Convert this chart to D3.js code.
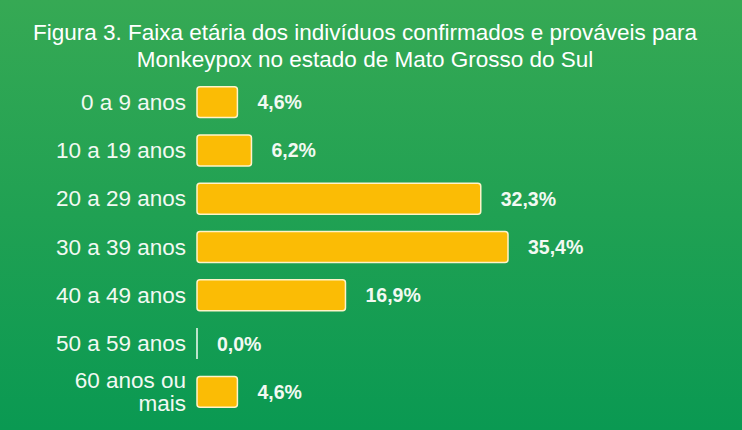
<!DOCTYPE html>
<html><head><meta charset="utf-8">
<script src="https://cdn.jsdelivr.net/npm/d3@7"></script>
<style>html,body{margin:0;padding:0;overflow:hidden;background:#0F9D58}</style>
</head><body>
<script>
const categories = ["0 a 9 anos","10 a 19 anos","20 a 29 anos","30 a 39 anos","40 a 49 anos","50 a 59 anos","60 anos ou mais"];
const values = [4.6, 6.2, 32.3, 35.4, 16.9, 0.0, 4.6];
const valueLabels = ["4,6%","6,2%","32,3%","35,4%","16,9%","0,0%","4,6%"];
const titleLines = ["Figura 3. Faixa etária dos indivíduos confirmados e prováveis para","Monkeypox no estado de Mato Grosso do Sul"];

const W = 742, H = 430;
const svg = d3.select("body").append("svg").attr("width", W).attr("height", H);
const defs = svg.append("defs");
const grad = defs.append("linearGradient").attr("id","bg").attr("x1",0).attr("y1",0).attr("x2",0).attr("y2",1);
grad.append("stop").attr("offset","0%").attr("stop-color","#36A954");
grad.append("stop").attr("offset","100%").attr("stop-color","#0A9952");
svg.append("rect").attr("width",W).attr("height",H).attr("fill","url(#bg)");

const font = "'Liberation Sans', Arial, Helvetica, sans-serif";
svg.append("g").selectAll("text").data(titleLines).join("text")
  .attr("x", 365).attr("y", (d,i)=> 40 + i*27)
  .attr("text-anchor","middle").attr("fill","#ffffff")
  .attr("font-family", font).attr("font-size", 22.5)
  .text(d=>d);

const x = d3.scaleLinear().domain([0, 35.4]).range([197, 508]);
const y = d3.scaleBand().domain(categories).range([78, 416]).paddingInner(0.36).paddingOuter(0.18);

// category labels
const lab = svg.append("g");
categories.forEach(c => {
  const t = lab.append("text").attr("x", 186).attr("text-anchor","end")
    .attr("fill","#f2f9f2").attr("font-family", font).attr("font-size", 22.5);
  const cy = y(c) + y.bandwidth()/2;
  if (c === "60 anos ou mais") {
    t.append("tspan").attr("x",186).attr("y", cy - 4).text("60 anos ou");
    t.append("tspan").attr("x",186).attr("y", cy + 19).text("mais");
  } else {
    t.attr("y", cy + 7.5).text(c);
  }
});

// bars (paths so zero-width bars still show their outline)
svg.append("g").selectAll("path").data(values).join("path")
  .attr("d", (d,i) => {
    const x0 = x(0), x1 = x(d), y0 = y(categories[i]), h = y.bandwidth();
    const w = x1 - x0;
    if (w <= 0) return `M${x0},${y0}V${y0 + h}`;
    const r = Math.min(3, w/2);
    return `M${x0+r},${y0}H${x1-r}Q${x1},${y0} ${x1},${y0+r}V${y0+h-r}Q${x1},${y0+h} ${x1-r},${y0+h}H${x0+r}Q${x0},${y0+h} ${x0},${y0+h-r}V${y0+r}Q${x0},${y0} ${x0+r},${y0}Z`;
  })
  .attr("fill", "#FBBC05")
  .attr("stroke", d => d > 0 ? "#fff3c8" : "#f4fbf4").attr("stroke-width", 1.5);

// value labels
svg.append("g").selectAll("text").data(values).join("text")
  .attr("x", d => x(d) + 20)
  .attr("y", (d,i)=> y(categories[i]) + y.bandwidth()/2 + 7)
  .attr("fill","#f2f9f2").attr("font-family", font).attr("font-weight","bold").attr("font-size", 19.5)
  .text((d,i)=> valueLabels[i]);
</script>
</body></html>
